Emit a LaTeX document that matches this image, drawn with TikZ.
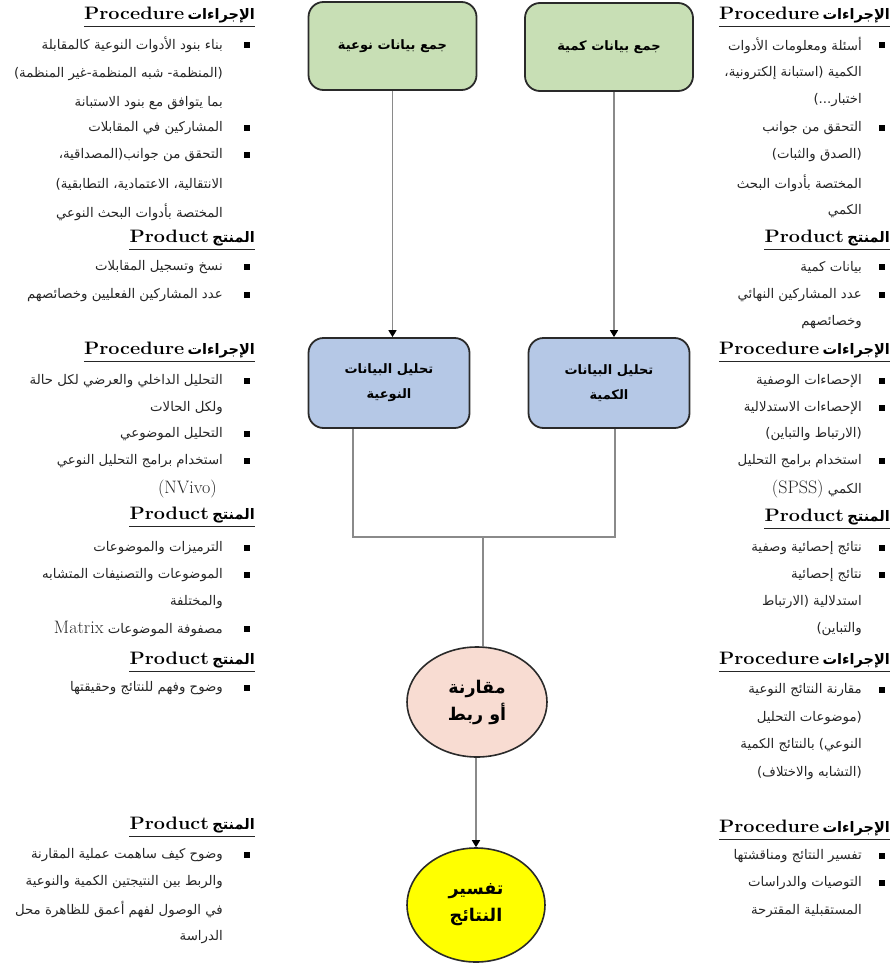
\documentclass[tikz,border=0pt]{standalone}
\usepackage{fontspec}
\usepackage{graphicx}
\newfontfamily\arabicfont[Script=Arabic]{DejaVu Sans}
\TeXXeTstate=1
\usetikzlibrary{arrows.meta,shapes.geometric}
\definecolor{gfill}{HTML}{C8DFB5}
\definecolor{bfill}{HTML}{B5C8E6}
\definecolor{pfill}{HTML}{F8DCD2}
\definecolor{yfill}{HTML}{FFFF00}
\definecolor{conncol}{HTML}{8A8A8A}
\definecolor{edgecol}{HTML}{2A2A2A}
\definecolor{txtcol}{HTML}{262626}
\newcommand{\ar}[1]{{\arabicfont\beginR#1\endR}}
\newcommand{\arb}[1]{{\arabicfont\bfseries\fontsize{14.5}{16}\selectfont\beginR#1\endR}}
\newcommand{\eng}[1]{\scalebox{1.1}[1]{\fontsize{18}{20}\selectfont\bfseries #1}}
\newcommand{\lat}[1]{{\fontsize{18}{20}\selectfont #1}}
\begin{document}
\begin{tikzpicture}[x=1pt,y=-1pt,
  gbox/.style={draw=edgecol, line width=1.8pt, rounded corners=15pt, fill=gfill,
    minimum width=168pt, minimum height=88pt, align=center,
    font=\fontsize{13}{25}\selectfont\bfseries},
  bbox/.style={draw=edgecol, line width=1.8pt, rounded corners=15pt, fill=bfill,
    minimum width=161pt, minimum height=90pt, align=center,
    font=\fontsize{13}{25}\selectfont\bfseries},
  ell/.style={ellipse, draw=edgecol, line width=1.6pt, inner sep=0pt, align=center,
    font=\fontsize{17.5}{27}\selectfont\bfseries},
  conn/.style={draw=conncol, line width=1.5pt},
  arr/.style={-{Triangle[length=7pt,width=8pt,color=black]}},
  itxt/.style={anchor=east, inner sep=0pt, text=txtcol, font=\fontsize{13.3}{16}\selectfont},
  bul/.style={rectangle, fill=black, inner sep=0pt, minimum size=6pt},
  hd/.style={anchor=east, inner sep=0pt},
  uline/.style={draw=black!85, line width=1.4pt}
]
\useasboundingbox (0,0) rectangle (894,966);

% ---- main flow ----
\node[gbox] (g1) at (392.5,46) {\ar{جمع بيانات نوعية}};
\node[gbox] (g2) at (609,47) {\ar{جمع بيانات كمية}};
\node[bbox] (b1) at (389,383) {\ar{تحليل البيانات}\\\ar{النوعية}};
\node[bbox] (b2) at (609,383) {\ar{تحليل البيانات}\\\ar{الكمية}};
\node[ell, fill=pfill, minimum width=140pt, minimum height=110pt] (e1) at (477,702) {\ar{مقارنة}\\\ar{أو ربط}};
\node[ell, fill=yfill, minimum width=138pt, minimum height=114pt] (e2) at (476,905) {\ar{تفسير}\\\ar{النتائج}};

\draw[conn,arr] (g1.south) -- (g1.south |- b1.north);
\draw[conn,arr] ([xshift=5pt]g2.south) -- ([xshift=5pt]g2.south |- b2.north);
\coordinate (j) at (483,537);
\draw[conn] ([xshift=-36pt]b1.south) |- (j);
\draw[conn] ([xshift=6pt]b2.south) |- (j);
\draw[conn] (j) -- (j |- e1.north);
\draw[conn,arr] (e2.north |- e1.south) -- (e2.north);

% ---- left column ----
\node[hd] (lh1) at (255,15) {\eng{Procedure} \arb{الإجراءات}};
\draw[uline] ([yshift=-3pt]lh1.south west) -- ([yshift=-3pt]lh1.south east);
\node[bul] (lb1) at (247,45) {};
\node[itxt] (l1) at (223,45) {\ar{بناء بنود الأدوات النوعية كالمقابلة}};
\node[itxt] (l2) at (223,74) {\ar{(المنظمة- شبه المنظمة-غير المنظمة)}};
\node[itxt] (l3) at (223,103) {\ar{بما يتوافق مع بنود الاستبانة}};
\node[bul] (lb2) at (247,128) {};
\node[itxt] (l4) at (223,128) {\ar{المشاركين في المقابلات}};
\node[bul] (lb3) at (247,155) {};
\node[itxt] (l5) at (223,155) {\ar{التحقق من جوانب(المصداقية،}};
\node[itxt] (l6) at (223,184) {\ar{الانتقالية، الاعتمادية، التطابقية)}};
\node[itxt] (l7) at (223,212) {\ar{المختصة بأدوات البحث النوعي}};

\node[hd] (lh2) at (255,238) {\eng{Product} \arb{المنتج}};
\draw[uline] ([yshift=-3pt]lh2.south west) -- ([yshift=-3pt]lh2.south east);
\node[bul] (lb4) at (247,267) {};
\node[itxt] (l8) at (223,267) {\ar{نسخ وتسجيل المقابلات}};
\node[bul] (lb5) at (247,295) {};
\node[itxt] (l9) at (223,295) {\ar{عدد المشاركين الفعليين وخصائصهم}};

\node[hd] (lh3) at (255,350) {\eng{Procedure} \arb{الإجراءات}};
\draw[uline] ([yshift=-3pt]lh3.south west) -- ([yshift=-3pt]lh3.south east);
\node[bul] (lb6) at (247,381) {};
\node[itxt] (l10) at (223,381) {\ar{التحليل الداخلي والعرضي لكل حالة}};
\node[itxt] (l11) at (223,408) {\ar{ولكل الحالات}};
\node[bul] (lb7) at (247,434) {};
\node[itxt] (l12) at (223,434) {\ar{التحليل الموضوعي}};
\node[bul] (lb8) at (247,461) {};
\node[itxt] (l13) at (223,461) {\ar{استخدام برامج التحليل النوعي}};
\node[itxt] (l14) at (217,489) {\lat{(NVivo)}};

\node[hd] (lh4) at (255,515) {\eng{Product} \arb{المنتج}};
\draw[uline] ([yshift=-3pt]lh4.south west) -- ([yshift=-3pt]lh4.south east);
\node[bul] (lb9) at (247,548) {};
\node[itxt] (l15) at (223,548) {\ar{الترميزات والموضوعات}};
\node[bul] (lb10) at (247,575) {};
\node[itxt] (l16) at (223,575) {\ar{الموضوعات والتصنيفات المتشابه}};
\node[itxt] (l17) at (223,602) {\ar{والمختلفة}};
\node[bul] (lb11) at (247,629) {};
\node[itxt] (l18) at (223,629) {\lat{Matrix} \ar{مصفوفة الموضوعات}};

\node[hd] (lh5) at (255,660) {\eng{Product} \arb{المنتج}};
\draw[uline] ([yshift=-3pt]lh5.south west) -- ([yshift=-3pt]lh5.south east);
\node[bul] (lb12) at (247,688) {};
\node[itxt] (l19) at (223,688) {\ar{وضوح وفهم للنتائج وحقيقتها}};

\node[hd] (lh6) at (255,825) {\eng{Product} \arb{المنتج}};
\draw[uline] ([yshift=-3pt]lh6.south west) -- ([yshift=-3pt]lh6.south east);
\node[bul] (lb13) at (247,855) {};
\node[itxt] (l20) at (223,855) {\ar{وضوح كيف ساهمت عملية المقارنة}};
\node[itxt] (l21) at (223,882) {\ar{والربط بين النتيجتين الكمية والنوعية}};
\node[itxt] (l22) at (223,909) {\ar{في الوصول لفهم أعمق للظاهرة محل}};
\node[itxt] (l23) at (223,937) {\ar{الدراسة}};

% ---- right column ----
\node[hd] (rh1) at (890,15) {\eng{Procedure} \arb{الإجراءات}};
\draw[uline] ([yshift=-3pt]rh1.south west) -- ([yshift=-3pt]rh1.south east);
\node[bul] (rb1) at (882,45) {};
\node[itxt] (r1) at (862,45) {\ar{أسئلة ومعلومات الأدوات}};
\node[itxt] (r2) at (862,73) {\ar{الكمية (استبانة إلكترونية،}};
\node[itxt] (r3) at (862,100) {\ar{اختبار...)}};
\node[bul] (rb2) at (882,128) {};
\node[itxt] (r4) at (862,128) {\ar{التحقق من جوانب}};
\node[itxt] (r5) at (862,155) {\ar{(الصدق والثبات)}};
\node[itxt] (r6) at (862,183) {\ar{المختصة بأدوات البحث}};
\node[itxt] (r7) at (862,211) {\ar{الكمي}};

\node[hd] (rh2) at (890,238) {\eng{Product} \arb{المنتج}};
\draw[uline] ([yshift=-3pt]rh2.south west) -- ([yshift=-3pt]rh2.south east);
\node[bul] (rb3) at (882,267) {};
\node[itxt] (r8) at (862,267) {\ar{بيانات كمية}};
\node[bul] (rb4) at (882,295) {};
\node[itxt] (r9) at (862,295) {\ar{عدد المشاركين النهائي}};
\node[itxt] (r10) at (862,322) {\ar{وخصائصهم}};

\node[hd] (rh3) at (890,350) {\eng{Procedure} \arb{الإجراءات}};
\draw[uline] ([yshift=-3pt]rh3.south west) -- ([yshift=-3pt]rh3.south east);
\node[bul] (rb5) at (882,381) {};
\node[itxt] (r11) at (862,381) {\ar{الإحصاءات الوصفية}};
\node[bul] (rb6) at (882,408) {};
\node[itxt] (r12) at (862,408) {\ar{الإحصاءات الاستدلالية}};
\node[itxt] (r13) at (862,434) {\ar{(الارتباط والتباين)}};
\node[bul] (rb7) at (882,461) {};
\node[itxt] (r14) at (862,461) {\ar{استخدام برامج التحليل}};
\node[itxt] (r15) at (862,489) {\lat{(SPSS)} \ar{الكمي}};

\node[hd] (rh4) at (890,517) {\eng{Product} \arb{المنتج}};
\draw[uline] ([yshift=-3pt]rh4.south west) -- ([yshift=-3pt]rh4.south east);
\node[bul] (rb8) at (882,548) {};
\node[itxt] (r16) at (862,548) {\ar{نتائج إحصائية وصفية}};
\node[bul] (rb9) at (882,575) {};
\node[itxt] (r17) at (862,575) {\ar{نتائج إحصائية}};
\node[itxt] (r18) at (862,602) {\ar{استدلالية (الارتباط}};
\node[itxt] (r19) at (862,629) {\ar{والتباين)}};

\node[hd] (rh5) at (890,660) {\eng{Procedure} \arb{الإجراءات}};
\draw[uline] ([yshift=-3pt]rh5.south west) -- ([yshift=-3pt]rh5.south east);
\node[bul] (rb10) at (882,690) {};
\node[itxt] (r20) at (862,690) {\ar{مقارنة النتائج النوعية}};
\node[itxt] (r21) at (862,718) {\ar{(موضوعات التحليل}};
\node[itxt] (r22) at (862,745) {\ar{النوعي) بالنتائج الكمية}};
\node[itxt] (r23) at (862,773) {\ar{(التشابه والاختلاف)}};

\node[hd] (rh6) at (890,828) {\eng{Procedure} \arb{الإجراءات}};
\draw[uline] ([yshift=-3pt]rh6.south west) -- ([yshift=-3pt]rh6.south east);
\node[bul] (rb11) at (882,856) {};
\node[itxt] (r24) at (862,856) {\ar{تفسير النتائج ومناقشتها}};
\node[bul] (rb12) at (882,883) {};
\node[itxt] (r25) at (862,883) {\ar{التوصيات والدراسات}};
\node[itxt] (r26) at (862,911) {\ar{المستقبلية المقترحة}};
\end{tikzpicture}
\end{document}
